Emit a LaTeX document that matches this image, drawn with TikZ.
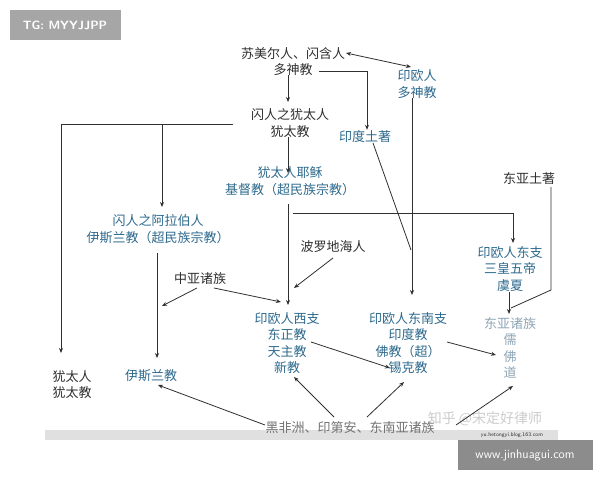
\documentclass[tikz,border=0pt]{standalone}
\usepackage{fontspec}
\newfontfamily\cjk{Noto Sans CJK SC}
\usetikzlibrary{arrows.meta}
\definecolor{tblue}{HTML}{2E6A8E}
\definecolor{tdark}{HTML}{303030}
\definecolor{tpale}{HTML}{8FA6B5}
\begin{document}
\begin{tikzpicture}[x=1pt,y=-1pt,
  lbl/.style={font=\cjk\fontsize{13}{16.5}\selectfont,align=center,inner sep=1pt,text=tdark},
  bl/.style={lbl,text=tblue},
  pl/.style={lbl,text=tpale},
  ar/.style={-{Stealth[length=5pt,width=4pt]},thick,tdark},
  ln/.style={thick,tdark}]
\useasboundingbox (0,0) rectangle (600,480);
\fill[white] (0,0) rectangle (600,480);
% watermarks
\fill[black!35] (10,10) rectangle (121,40);
\node[font=\sffamily\bfseries\fontsize{12}{14}\selectfont,text=white] (tg) at (65,25) {TG: MYYJJPP};
\fill[black!12] (45,430) rectangle (558,440);
\node[font=\sffamily\fontsize{5.5}{6}\selectfont,text=tdark] (blog) at (512,435) {yu.hetongyi.blog.163.com};
\fill[black!45] (458,440) rectangle (593,470);
\node[font=\sffamily\fontsize{12.5}{14}\selectfont,text=white] (web) at (525,455) {www.jinhuagui.com};
\node[lbl,text=black!20,font=\cjk\fontsize{14}{15}\selectfont] (zh) at (485,419) {知乎 @宋定好律师};
% nodes
\node[lbl] (sumer) at (293,61.5) {苏美尔人、闪含人\\多神教};
\node[bl] (ie) at (417,84) {印欧人\\多神教};
\node[lbl] (semj) at (290,123) {闪人之犹太人\\犹太教};
\node[bl] (ind) at (365,137) {印度土著};
\node[bl] (jesus) at (290,181) {犹太人耶稣\\基督教（超民族宗教）};
\node[lbl] (ean) at (529,179) {东亚土著};
\node[bl] (arab) at (158,229) {闪人之阿拉伯人\\伊斯兰教（超民族宗教）};
\node[lbl] (balt) at (333,247) {波罗地海人};
\node[bl] (eb) at (510,269) {印欧人东支\\三皇五帝\\虞夏};
\node[lbl] (ca) at (200,279) {中亚诸族};
\node[bl] (west) at (287,343) {印欧人西支\\东正教\\天主教\\新教};
\node[bl] (se) at (408,343) {印欧人东南支\\印度教\\佛教（超）\\锡克教};
\node[pl] (ea) at (510,348) {东亚诸族\\儒\\佛\\道};
\node[lbl] (jb) at (72,384.5) {犹太人\\犹太教};
\node[bl] (isl) at (151,376) {伊斯兰教};
\node[lbl,text=black!55] (blk) at (350,428) {黑非洲、印第安、东南亚诸族};
% connectors
\draw[{Stealth[length=5pt,width=4pt]}-{Stealth[length=5pt,width=4pt]},thick,tdark] (346,53) -- (411,67);
\draw[ar] (288,75) -- (288,102);
\draw[ln] (319,71) -| (367,100);
\draw[ar] (367,100) -- (ind.north -| 367,0);
\draw[ar] (412,98) -- (412,295);
\draw[ln] (373,143) -- (411,250);
\draw[ln] (233,124) -- (61,124);
\draw[ar] (61,124) -- (61,353);
\draw[ar] (162,124) -- (162,207);
\draw[ar] (288,137) -- (288,173);
\draw[ar] (288,204) -- (288,305);
\draw[ln] (293,213) -- (513,213);
\draw[ar] (513,213) -- (513,243);
\draw[ln] (551,187) -- (551,290) -- (511,308);
\draw[ar] (509,292) -- (509,314);
\draw[ar] (333,258) -- (294,288);
\draw[ar] (197,288) -- (162,306);
\draw[ar] (214,288) -- (281,302);
\draw[ar] (157,253) -- (157,358);
\draw[ar] (311,342) -- (390,368);
\draw[ar] (447,342) -- (496,355);
\draw[ar] (265,425) -- (158,385);
\draw[ar] (334,417) -- (294,377);
\draw[ar] (367,417) -- (404,382);
\draw[ar] (456,425) -- (513,386);
\end{tikzpicture}
\end{document}
